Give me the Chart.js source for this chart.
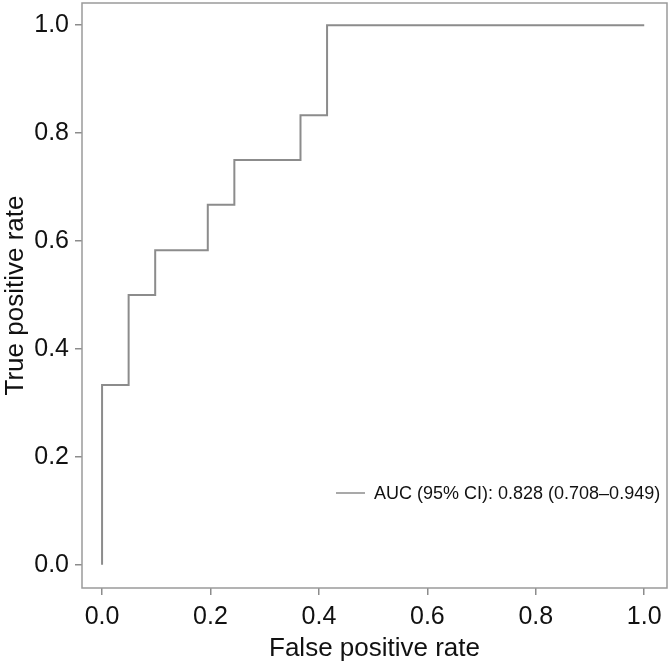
<!DOCTYPE html>
<html>
<head>
<meta charset="utf-8">
<script src="https://cdn.jsdelivr.net/npm/chart.js@4"></script>
<style>
  html, body { margin: 0; padding: 0; background: #fff; }
  #wrap { width: 672px; height: 664px; }
</style>
</head>
<body>
<div id="wrap"><canvas id="roc"></canvas></div>
<script>
// ROC points (false positive rate, true positive rate)
const fpr = [0, 0, 0.049, 0.098, 0.195, 0.244, 0.366, 0.415, 1.0];
const tpr = [0, 0.333, 0.5, 0.583, 0.667, 0.75, 0.833, 1.0, 1.0];
const tickValues = [0, 0.2, 0.4, 0.6, 0.8, 1.0];
const curveLabel = 'AUC (95% CI): 0.828 (0.708\u20130.949)';

const grey = '#8c8c8c';
const font = '"Liberation Sans", Arial, Helvetica, sans-serif';

// full box round the plot + legend inside the plot
const frameAndLegend = {
    id: 'frameAndLegend',
    afterDraw(chart) {
        const c = chart.ctx, a = chart.chartArea;
        c.save();
        c.strokeStyle = '#9a9a9a';
        c.lineWidth = 1.5;
        c.strokeRect(a.left, a.top, a.right - a.left, a.bottom - a.top);

        const ds = chart.data.datasets[0];
        const ly = a.top + 490;
        c.strokeStyle = ds.borderColor;
        c.lineWidth = 1.5;
        c.beginPath();
        c.moveTo(a.left + 254, ly);
        c.lineTo(a.left + 283, ly);
        c.stroke();
        c.fillStyle = '#111';
        c.font = '18px ' + font;
        c.textBaseline = 'middle';
        c.fillText(ds.label, a.left + 292, ly + 1);
        c.restore();
    }
};

function setTicks(scale) {
    scale.ticks = tickValues.map(v => ({ value: v }));
}

const ctx = document.getElementById('roc').getContext('2d');
const rocChart = new Chart(ctx, {
    type: 'line',
    data: {
        datasets: [{
            label: curveLabel,
            data: fpr.map((x, i) => ({ x: x, y: tpr[i] })),
            borderColor: grey,
            borderWidth: 2,
            pointRadius: 0,
            stepped: 'before',
            fill: false
        }]
    },
    options: {
        responsive: true,
        maintainAspectRatio: false,
        animation: false,
        layout: { padding: { top: 3, right: 5 } },
        plugins: {
            legend: { display: false },
            tooltip: { enabled: false }
        },
        scales: {
            x: {
                type: 'linear',
                min: -0.037,
                max: 1.042,
                afterBuildTicks: setTicks,
                afterFit(scale) {
                    scale.height = 76;
                    scale.paddingLeft = 0;
                    scale.paddingRight = 0;
                },
                border: { display: false },
                grid: { drawOnChartArea: false, tickLength: 7, color: grey, lineWidth: 1.5 },
                ticks: {
                    padding: 7,
                    color: '#111',
                    font: { family: font, size: 25 },
                    callback: v => v.toFixed(1)
                },
                title: {
                    display: true,
                    text: 'False positive rate',
                    color: '#111',
                    font: { family: font, size: 26 },
                    padding: { top: 0, bottom: 0 }
                }
            },
            y: {
                type: 'linear',
                min: -0.043,
                max: 1.041,
                afterBuildTicks: setTicks,
                afterFit(scale) {
                    scale.width = 82;
                    scale.paddingTop = 0;
                    scale.paddingBottom = 0;
                },
                border: { display: false },
                grid: { drawOnChartArea: false, tickLength: 7, color: grey, lineWidth: 1.5 },
                ticks: {
                    padding: 6,
                    color: '#111',
                    font: { family: font, size: 25 },
                    callback: v => v.toFixed(1)
                },
                title: {
                    display: true,
                    text: 'True positive rate',
                    color: '#111',
                    font: { family: font, size: 26 },
                    padding: { top: 0, bottom: 0 }
                }
            }
        }
    },
    plugins: [frameAndLegend]
});
</script>
</body>
</html>
